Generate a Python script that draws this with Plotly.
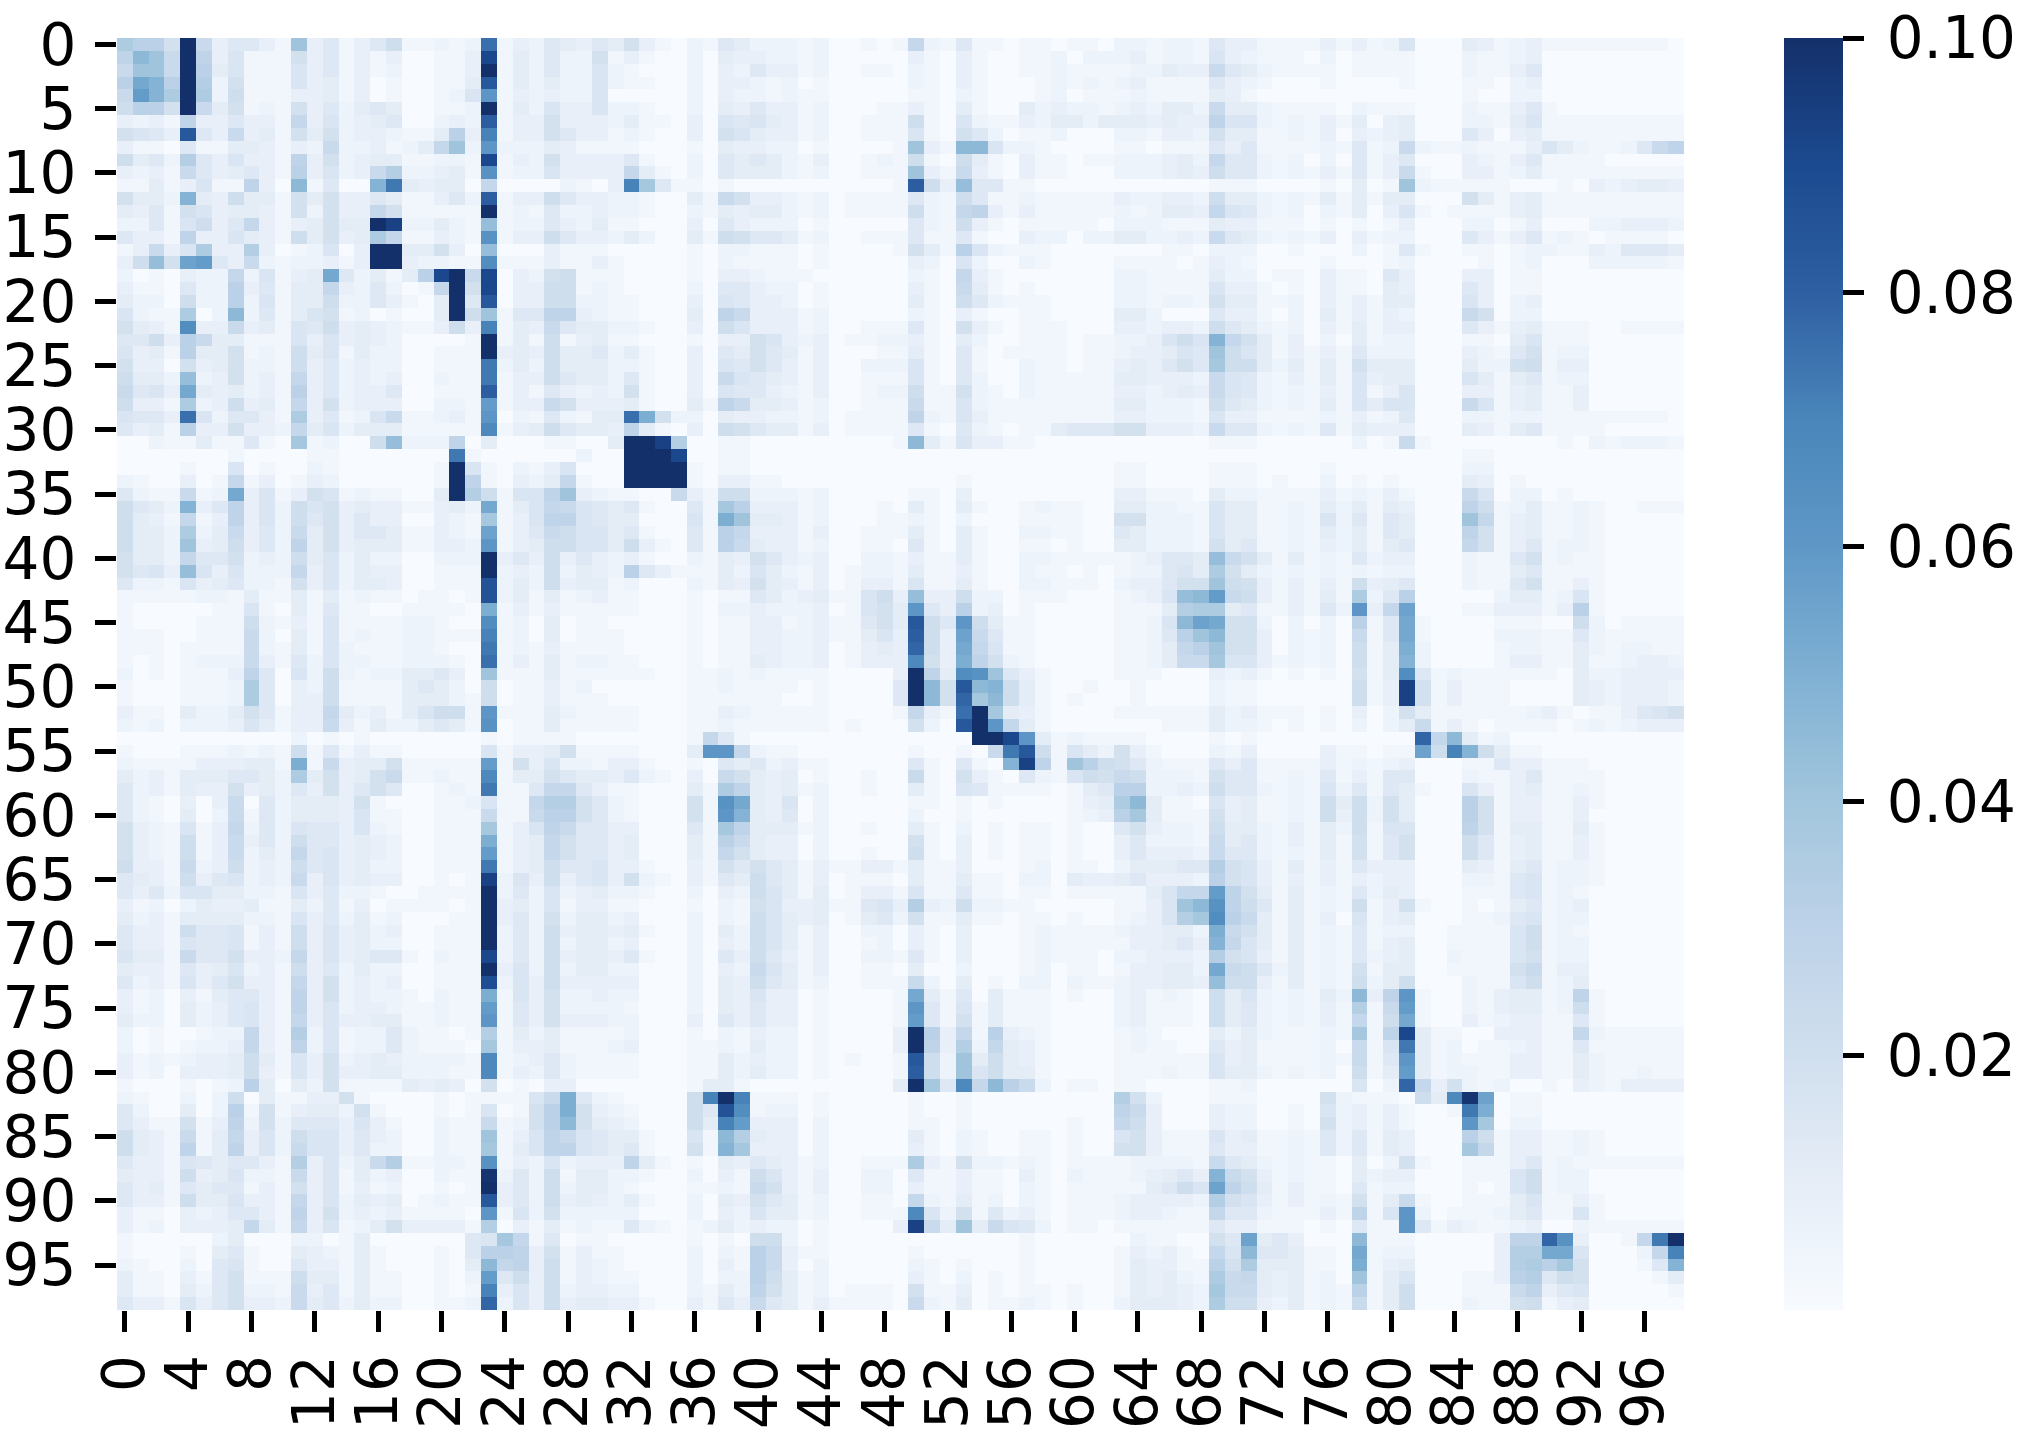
import numpy as np
import plotly.graph_objects as go

# Each string is one heatmap row segment; one character = one cell.
# Character position in LEVEL_CHARS times LEVEL_STEP is the cell value.
LEVEL_CHARS = "0123456789abcdefghijklmnopqrstuvwxyzABCDEF"
LEVEL_STEP = 0.0025
LEVEL_LIFT = 0.001  # readings of non-empty cells sat slightly low

top_left = [
"ecc7E 93553 1g351 35811 212u1 32543 547",
"big9E b3611 17351 31300 113A1 42522 713",
"9gg9E c4611 16351 31200 113E1 42522 621",
"cljcE d2711 16341 30100 114x1 42422 621",
"9njeE e2811 13341 30100 126o1 32322 600",
"8cc7E 94712 17352 45400 112E1 42633 622",
"3231b 33533 1a362 34500 232w1 33733 324",
"7653x 53934 17472 33211 4c3s1 33753 312",
"31105 11443 13292 23124 ag2o2 22431 111",
"8452d 53633 1b372 34411 221A1 32733 335",
"32319 53453 1c362 39d22 341p1 22633 33a",
"11413 611b3 0i150 0jt43 440a0 00021 03s",
"7442j 43844 17473 35411 352w1 33853 322",
"43517 63443 17273 3a711 111E1 21522 322",
"22516 835a3 13474 4EB22 421h1 22532 411",
"5331b 33643 18473 4ea11 321p1 33853 324",
"13936 e33d3 01260 3EE44 730h0 00311 100",
"38h7m n5392 12231 3EE32 211q1 11311 310",
"20103 22a26 134l5 2414c AE9A0 32781 110",
"31105 22c35 144a3 25201 aE7A0 33881 210",
"42208 22c26 14482 25310 4E5x0 33882 211",
"6211e 02i25 14671 20100 4E8g1 55bb3 211",
"7431q 33934 16583 43211 383s1 43954 422",
"5583c 94411 16363 43200 001E1 41813 411",
"6341c 44712 18461 42200 111E3 43844 524",
"73307 34722 18352 32200 111t2 42844 422",
"8442h 23723 1a352 32300 211t1 33854 425",
"9563l 43423 1c352 33500 111w1 31532 327",
"8331e 23834 1a372 33300 221n1 33973 334",
"6553u 62553 1e351 26911 231o0 21521 44u",
"5341c 33733 2a462 44411 111r1 34854 43b",
"00211 41151 0f120 08h22 2b040 00110 04E",
"00000 00100 00110 00000 0t100 00002 00E",
]

top_middle = [
"31021 54222 12001 01a21 51101 10110 221",
"10020 43322 12000 00310 31001 12022 231",
"00020 32533 12001 10210 31001 12111 122",
"10020 33212 01000 00210 31000 12121 231",
"00020 32212 11000 00110 21000 12011 121",
"10020 43533 12000 11310 41004 23221 232",
"11030 65643 12001 11810 62113 24424 443",
"10030 76433 12001 11610 75201 12000 221",
"00010 43322 01000 01g31 ii622 10000 110",
"10020 54542 13001 21810 84103 11011 222",
"41020 54442 12001 11g31 93103 11000 222",
"f5110 10000 00000 01w83 h5511 00000 000",
"10041 97332 12011 11521 85112 11111 322",
"10021 43442 12011 11821 ab313 11111 212",
"00030 53222 01000 00521 83101 11110 222",
"20041 87554 12001 11511 51003 22022 442",
"00010 22111 01000 01741 c6211 10000 000",
"00010 21111 01000 00320 62002 10000 111",
"00010 33211 10000 00210 a3100 00000 221",
"00020 55322 01000 00310 94101 00000 221",
"00030 65332 01000 00410 85211 10000 221",
"00040 b9333 12000 00210 31001 10000 442",
"10030 86333 12001 11510 73101 11000 332",
"00010 33763 23011 22310 42001 11011 223",
"10030 54754 13000 11410 51011 11011 233",
"10030 65753 13002 22610 51002 11011 343",
"10030 96543 13001 11610 52002 11111 443",
"10030 65532 13001 22811 72102 11111 332",
"10041 b9443 12001 11911 62111 11111 442",
"k7220 43322 12011 11b21 63111 11111 332",
"41030 87544 13011 11510 52101 14555 773",
"EBd00 11000 00000 01i41 63311 00000 000",
"EEA00 11000 00000 00000 00000 00000 000",
]

top_right = [
"22153 31111 31312 60004 31231 11111 110",
"22163 21110 20111 10002 11230 00000 000",
"43395 42111 10111 10002 11350 00000 000",
"11153 21000 10000 10001 10230 00000 000",
"11143 10000 00000 00001 00220 00000 000",
"44294 42111 10211 10002 11351 00000 000",
"433b6 62121 31403 40002 21461 11111 111",
"33274 41121 30323 40005 30341 11111 111",
"11153 51111 21512 92112 11136 42112 59b",
"342a5 52120 20513 50003 21351 11100 000",
"34385 52121 31513 91003 31241 11111 111",
"00011 10000 10401 g2111 11000 10323 443",
"33284 42121 41414 40007 41341 11111 111",
"443a6 52120 21403 61011 11341 11111 111",
"11143 31110 10101 30002 20130 00223 332",
"23295 42121 30312 20005 31351 21011 110",
"11022 20010 00201 51001 10122 11325 554",
"10132 10000 10001 20000 10120 00222 221",
"11142 20110 31105 30003 30110 00000 000",
"11163 31010 31104 30005 30110 00000 000",
"22174 41120 31314 40006 30230 00000 000",
"00053 31020 41313 20009 70220 00000 000",
"33285 42120 31413 30005 31341 11001 111",
"686ja 74130 20412 20001 10461 11000 000",
"465g8 64131 31522 20003 21571 22000 000",
"575f8 84241 41744 40004 22781 33000 000",
"33296 52131 41634 40006 41451 22000 000",
"34396 52121 31613 60003 31341 13000 000",
"22185 42121 41646 60009 61341 13000 000",
"22163 31111 21312 50002 21221 11111 110",
"33295 52121 51433 30004 31451 11100 000",
"00011 10000 00201 91000 00000 10212 221",
"00000 00000 00000 00001 10000 00000 000",
]

middle_left = [
"00001 00601 00210 00000 1E610 21360 00E",
"21003 01a13 01320 00000 1Eb10 324a1 00E",
"52119 12l36 13761 21100 4Ed81 66bg3 211",
"8542j 35b36 28673 43311 342l1 46a96 545",
"8431a 13b36 28573 53300 321f1 36bb6 544",
"8442e 24935 29473 55411 321m1 35986 645",
"8442g 34835 2b473 44411 332o1 34886 648",
"7442a 55723 28462 42200 222E3 53835 323",
"7563h 63622 2a362 43300 111E2 32824 32c",
"52216 34522 17362 44300 111y2 42834 412",
"11111 22141 14141 21101 101y2 41412 311",
"10000 01161 04151 10011 110k1 31311 111",
"10000 11182 13161 11122 100q1 20401 100",
"11100 11192 04161 21122 111s1 20401 110",
"11101 11192 14162 11122 100t1 21311 110",
"10101 22293 15262 21122 210u1 31412 211",
"20101 113b5 06282 12244 530g1 11411 111",
"10001 112e5 03281 11145 42080 11312 000",
"10001 112e5 03381 11144 42180 11311 100",
"31104 22475 133a4 23146 881o1 11421 111",
"21202 22364 13393 14224 541p0 11411 111",
"00000 00000 02010 10000 00010 11110 000",
"10001 11212 18151 31100 00061 33471 111",
"21111 33344 1k193 44711 111n1 73622 133",
"42314 44554 2e473 47911 211r1 44754 435",
"52314 33734 25373 57500 121t1 15aa5 311",
"52103 03905 24443 71000 11261 1add7 521",
"52104 02915 24443 61100 11191 19cc7 521",
"73216 13a25 26553 62100 111f1 36b95 533",
"73218 13935 28553 43200 111k1 34a75 534",
"73218 13924 2a563 43200 111n1 34a75 534",
"83319 23823 28563 42200 111t1 34855 633",
"54318 35623 29363 43300 101B2 63835 637",
]

center = [
"EEE10 11000 00000 00000 00000 00000 110",
"EEE10 33110 00000 00000 10000 00000 110",
"00931 88222 12000 00110 30000 00000 331",
"10051 fc333 12000 10410 41001 21100 442",
"00061 kg443 12000 11210 20001 11100 772",
"10051 ca333 13001 11410 41002 21100 542",
"31051 c9433 12001 10510 41001 10100 442",
"10021 43753 23002 21311 41002 21111 123",
"53111 42642 13012 21411 31002 11010 122",
"00021 43743 13013 31611 41002 21110 233",
"00010 11542 34116 83h33 82201 11000 123",
"00010 22322 23016 74o53 c2301 00000 111",
"00010 11331 23115 74x85 o8411 00000 112",
"00010 11332 23114 63w83 m9511 00000 112",
"00010 11332 23013 43v83 la611 00000 112",
"00010 11432 23013 33r73 kb721 00000 112",
"10011 21211 11000 03Eb4 qpg53 10000 111",
"00011 21111 01000 05Ei7 xij84 10010 010",
"00011 11110 01000 05Ei7 vfi84 10100 010",
"00011 32111 11000 01a31 uEf43 10000 111",
"00011 21111 11010 00720 xEoa4 10000 000",
"0001a 51000 00000 00000 0EEAo 41211 110",
"0004o oa211 00000 00100 109tx 81642 731",
"10010 54523 11000 00510 510jB b1gc8 752",
"21030 97434 01001 00910 73105 21687 982",
"00041 eb434 12001 00410 65111 10145 cc2",
"00071 pl436 02000 00110 10100 00134 ei4",
"00071 oj435 02000 00200 10000 00123 cf4",
"00051 fb444 12001 00410 20101 10100 573",
"00041 c9433 02000 00710 30101 10100 352",
"00041 a7433 02001 00810 30101 10100 353",
"10031 75754 13113 31411 30001 20110 244",
"21031 54854 13011 10411 41102 20433 453",
]

middle_right = [
"00011 10000 10000 00002 20000 00000 000",
"00011 10100 20101 00004 30100 00000 000",
"11042 21111 31213 10009 60220 10000 000",
"21164 41121 42414 3000b 81241 12100 111",
"22164 41121 62515 4000g a1341 12100 000",
"22164 41121 42415 4000b 71341 12100 000",
"22174 51121 32414 5000a 71351 22100 000",
"554h9 74141 21523 30002 11571 21100 000",
"564e7 42121 21212 20002 11451 11100 000",
"577g8 73131 31834 50002 11571 13100 000",
"6hin9 83131 41e25 c0000 02441 26100 000",
"4dee4 51131 52o3a m0001 13331 3c100 000",
"6iml7 72020 20c15 l1000 01110 08201 111",
"5cgi7 73021 20915 l1000 02221 15211 111",
"4acg7 73021 20814 k2000 01221 14212 211",
"499f6 63121 20814 j2000 01331 14112 332",
"00032 31010 10714 q5121 11111 04223 333",
"00021 10000 00813 B7131 11000 04323 332",
"00021 10000 00813 B7131 11000 04323 332",
"11142 31110 10302 74111 11123 10113 567",
"11142 21010 10202 49131 01111 01212 333",
"00010 10000 00000 0vai4 12000 00000 000",
"00021 30000 31101 1m8sj 84110 00000 000",
"11153 51111 31212 30001 15331 11000 000",
"22175 51121 51315 50002 11351 11100 000",
"23285 52121 62515 41006 31341 12100 000",
"11063 41121 84827 4000c 71331 13100 000",
"11173 41121 83827 4000c 71331 13000 000",
"22184 42131 42816 6000b 71441 14100 000",
"22194 52131 41715 70008 51341 13100 000",
"33295 52121 41715 70008 51341 13100 000",
"455d7 63141 31533 30004 31451 22100 000",
"332c7 63131 31323 30002 21561 22100 000",
]

bottom_left = [
"53526 64422 16352 21001 111E2 52623 422",
"31202 43341 14251 30111 101E3 42613 311",
"42314 44422 16352 41200 011E3 52724 423",
"53318 55613 18363 42300 111E2 52834 434",
"53316 55613 18363 42200 111E2 52824 423",
"64419 55733 2a363 45510 211A2 52834 435",
"43315 34623 18352 42200 111E3 62824 422",
"52316 35733 1a372 32300 111z2 63833 333",
"31203 14553 1b372 32210 211k1 63722 322",
"31204 23563 1b362 33211 211n1 53722 221",
"42204 23563 1a363 34411 211o1 53733 322",
"20100 122a3 1d261 22521 101d1 42411 112",
"20101 223a3 1b261 22521 110f1 33411 123",
"31212 33484 16372 34322 221r1 23521 111",
"31203 33483 16373 34422 211r1 32521 111",
"10001 012c4 04271 11143 43070 10330 000",
"21002 02804 11337 10000 10111 169k5 210",
"52004 02c17 13442 71000 10160 17ck7 321",
"53117 13b27 25553 63100 21191 27ci7 432",
"84319 14a36 28663 53200 211g1 36b96 544",
"8431b 14b36 29663 52200 211f1 46bb6 545",
"53316 54553 1d362 49d11 221p1 32623 33b",
"43318 34622 19361 42300 211D2 52814 422",
"53415 45513 17361 31200 101E3 52824 421",
"53318 44633 1a362 43401 211x3 52834 324",
"31103 23553 1b372 32311 110o1 62722 222",
"31203 334a4 1a361 24733 331d0 31412 115",
"10000 02400 02201 40000 0056f a1501 100",
"10001 04510 04321 41000 105cc b3713 110",
"21002 05610 05331 41000 104ia b3813 210",
"41103 15711 18441 41100 102n5 83813 211",
"41104 25722 19351 41100 101s3 63823 322",
"53316 35733 29452 42200 112v2 63834 433",
]

bottom_middle = [
"10020 32864 14013 31611 51101 10111 114",
"00010 21763 34115 63d32 82211 00000 113",
"00020 21864 34014 52711 41101 10100 123",
"10020 42864 13002 20310 30001 21111 233",
"00020 32864 13001 20310 30001 21111 133",
"10020 53853 13002 21510 30001 21110 223",
"00020 32964 13001 10400 20001 20110 133",
"00020 43854 12001 11920 40102 20211 233",
"00020 43633 01000 01l41 50411 10100 231",
"00020 43533 01000 01o51 61411 10000 231",
"00030 53533 01000 01n51 71411 10000 231",
"00010 21322 01000 03Ec3 a1c32 10000 121",
"00011 21422 01000 03Eb3 d2a43 10000 121",
"00011 42322 01010 01x82 g4843 10000 111",
"00011 42422 01000 01w82 g6844 10000 111",
"00014 41000 00000 04Ef5 raic9 20110 110",
"0008s Es111 01000 00100 10000 00000 d72",
"00085 yq122 01000 00100 10000 00000 b93",
"00084 sn333 02000 00110 10000 00100 a83",
"10061 id433 02000 00410 21001 10100 673",
"10071 jf333 02000 00310 21001 10100 773",
"41010 43543 12001 11e31 72212 10111 122",
"10020 31863 13002 20511 31103 10211 123",
"00011 21973 13002 20311 31102 10111 114",
"10020 43754 12001 10a21 41202 10111 233",
"00020 32644 12001 11r62 71523 10111 233",
"21012 42322 01000 03B94 g4965 20110 111",
"00010 10882 01000 00000 00001 00000 021",
"00020 21c93 11000 00100 00001 00000 132",
"00020 31c93 02000 00210 10001 00000 143",
"00020 22c84 12000 00310 20101 00000 143",
"00021 42b74 12011 10711 30101 10100 143",
"10031 53954 13111 10921 40112 10100 244",
]

bottom_right = [
"6aanb 74141 21524 30001 11561 21000 000",
"6gipb 85141 21813 71001 01451 23000 000",
"6dfqc 94141 30613 40001 12561 22000 000",
"442k9 74141 21512 20011 11681 21000 000",
"453ja 64141 21513 40011 11681 22000 000",
"332d7 63141 21523 40021 11671 22000 000",
"442l9 85241 21714 40011 11791 33000 000",
"443h8 83141 21824 80002 11681 24000 000",
"21084 62121 42i3b o1002 13441 2b100 000",
"11084 52121 31d19 n1002 13441 28100 000",
"11084 52121 31a18 l1003 12331 15100 000",
"00042 42111 21f1b A4110 03331 1a211 111",
"10053 41111 20916 t4120 11231 15111 111",
"11163 41111 21915 o4121 11331 14211 111",
"21164 42121 20814 n4122 11331 14211 211",
"00011 20000 00602 va372 12001 03213 333",
"00011 10000 72111 084rD m0110 00000 000",
"00032 20010 62313 1001t k0110 00000 000",
"00032 20010 72313 1000o f0220 00000 000",
"11163 41121 52514 3000c 81331 12100 000",
"11153 31121 52514 3000f a1331 12100 000",
"22195 42121 10402 71001 11351 21111 111",
"453j9 73121 10423 30001 11681 22000 000",
"586mb 84131 10512 20001 01681 22000 000",
"332d7 63131 21714 91001 11461 13100 000",
"211a5 52111 31b16 o2011 12451 16100 000",
"11153 31110 10511 o5132 11230 02111 111",
"10075 m4530 00i11 10000 03bbv p3001 atE",
"310a6 i5541 10l12 20000 03ddl l6000 2as",
"311c7 e4441 10k13 40000 03dec f7000 15j",
"421e9 a4341 20g14 60001 13cd5 87000 014",
"432f9 94341 21c14 80001 119b3 56000 001",
"432e8 83241 21914 80002 11781 34000 000",
]

blocks = [
    [top_left, top_middle, top_right],
    [middle_left, center, middle_right],
    [bottom_left, bottom_middle, bottom_right],
]

x_ticks = list(range(0, 99, 4))
y_ticks = list(range(0, 99, 5))
bar_ticks = [0.02, 0.04, 0.06, 0.08, 0.10]
colors = [
    [0.0, "#f7fbff"], [0.1, "#e6edf7"], [0.2, "#d0dfee"], [0.3, "#bdd2e8"],
    [0.4, "#a2c6dd"], [0.5, "#7fb0d3"], [0.6, "#5f98c7"], [0.7, "#4a86ba"],
    [0.8, "#2e5fa2"], [0.9, "#1c4a90"], [1.0, "#14306a"],
]

rows = []
bad = []
for bi, band in enumerate(blocks):
    for ri, parts in enumerate(zip(*band)):
        text = "".join(parts).replace(" ", "")
        if len(text) != 99:
            bad.append((bi, ri, len(text)))
        rows.append([(LEVEL_CHARS.index(c) * LEVEL_STEP + LEVEL_LIFT) if c != "0" else 0.0 for c in text])
if bad:
    raise SystemExit(f"bad rows: {bad}")
z = np.array(rows)

W, H = 2026, 1452
LEFT, RIGHT, TOP, BOTTOM = 117, 1684, 38, 1310
FONT = dict(family="DejaVu Sans", size=58, color="black")

fig = go.Figure(go.Heatmap(
    z=z,
    zmin=0, zmax=0.1,
    colorscale=colors,
    xgap=0, ygap=0,
    colorbar=dict(
        x=1784 / W, xanchor="left", xpad=0,
        y=(H - BOTTOM) / H, yanchor="bottom", ypad=0,
        len=(BOTTOM - TOP) / H, lenmode="fraction",
        thickness=59, thicknessmode="pixels",
        outlinewidth=0,
        tickmode="array", tickvals=bar_ticks,
        ticktext=["\u2009" + f"{v:.2f}" for v in bar_ticks],
        ticks="outside", ticklen=21, tickwidth=5, tickcolor="black",
        tickfont=FONT,
    ),
))
fig.update_layout(
    width=W, height=H,
    margin=dict(l=0, r=0, t=0, b=0),
    paper_bgcolor="white", plot_bgcolor="white",
    font=FONT,
    xaxis=dict(
        domain=[LEFT / W, RIGHT / W], range=[-0.5, 98.5],
        tickmode="array", tickvals=x_ticks, ticktext=[str(v) for v in x_ticks],
        tickangle=-90, ticks="outside", ticklen=21, tickwidth=5, tickcolor="black",
        showgrid=False, zeroline=False, showline=False, tickfont=FONT, automargin=False,
    ),
    yaxis=dict(
        domain=[(H - BOTTOM) / H, (H - TOP) / H], range=[98.5, -0.5],
        tickmode="array", tickvals=y_ticks, ticktext=[str(v) for v in y_ticks],
        ticks="outside", ticklen=21, tickwidth=5, tickcolor="black", ticklabelstandoff=7,
        showgrid=False, zeroline=False, showline=False, tickfont=FONT, automargin=False,
    ),
)
fig.write_html(
    "out.html",
    config={"displayModeBar": False},
    post_script="document.body.style.margin='0';document.documentElement.style.overflow='hidden';",
)
